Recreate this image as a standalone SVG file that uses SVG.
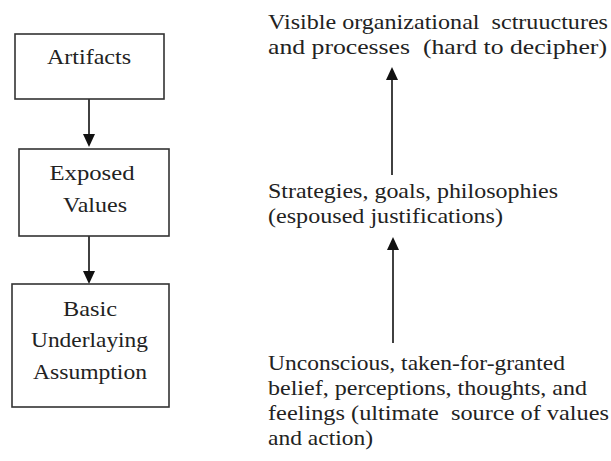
<svg xmlns="http://www.w3.org/2000/svg" width="611" height="461" viewBox="0 0 611 461">
<defs>
<style>
.box{fill:#fff;stroke:#333;stroke-width:1.6}
.t{font-size:22px;fill:#222}
.c{text-anchor:middle}
.con{stroke:#111;stroke-width:1.6;fill:none;marker-end:url(#ah)}
</style>
<marker id="ah" markerUnits="userSpaceOnUse" viewBox="0 0 13 12" refX="9" refY="6" markerWidth="13" markerHeight="12" orient="auto">
<path d="M0,0 L13,6 L0,12 z" fill="#111"/>
</marker>
</defs>
<rect width="611" height="461" fill="#fff"/>
<g id="connectors">
<line class="con" x1="89" y1="99" x2="89" y2="143"/>
<line class="con" x1="89" y1="236" x2="89" y2="280"/>
<line class="con" x1="392" y1="175" x2="392" y2="71"/>
<line class="con" x1="393" y1="343" x2="393" y2="241"/>
</g>
<g font-family="Liberation Serif, Times New Roman, serif">
<g id="artifacts">
<rect class="box" x="15" y="34" width="149" height="65"/>
<text class="t c" x="89" y="64" textLength="84" lengthAdjust="spacingAndGlyphs">Artifacts</text>
</g>
<g id="exposed-values">
<rect class="box" x="19" y="149" width="150" height="87"/>
<text class="t c" x="92" y="180" textLength="85" lengthAdjust="spacingAndGlyphs">Exposed</text>
<text class="t c" x="95" y="212" textLength="64" lengthAdjust="spacingAndGlyphs">Values</text>
</g>
<g id="basic-assumption">
<rect class="box" x="12" y="284" width="157" height="123"/>
<text class="t c" x="90" y="316" textLength="54" lengthAdjust="spacingAndGlyphs">Basic</text>
<text class="t c" x="89.5" y="347" textLength="117" lengthAdjust="spacingAndGlyphs">Underlaying</text>
<text class="t c" x="90" y="379" textLength="114" lengthAdjust="spacingAndGlyphs">Assumption</text>
</g>
<g id="visible">
<text class="t" x="268" y="29" textLength="340" lengthAdjust="spacingAndGlyphs" xml:space="preserve">Visible organizational  sctruuctures</text>
<text class="t" x="268" y="54" textLength="339" lengthAdjust="spacingAndGlyphs" xml:space="preserve">and processes  (hard to decipher)</text>
</g>
<g id="strategies">
<text class="t" x="268" y="198" textLength="290" lengthAdjust="spacingAndGlyphs">Strategies, goals, philosophies</text>
<text class="t" x="268" y="223" textLength="235" lengthAdjust="spacingAndGlyphs">(espoused justifications)</text>
</g>
<g id="unconscious">
<text class="t" x="268" y="370" textLength="297" lengthAdjust="spacingAndGlyphs">Unconscious, taken-for-granted</text>
<text class="t" x="268" y="395" textLength="319" lengthAdjust="spacingAndGlyphs">belief, perceptions, thoughts, and</text>
<text class="t" x="268" y="420" textLength="341" lengthAdjust="spacingAndGlyphs" xml:space="preserve">feelings (ultimate  source of values</text>
<text class="t" x="268" y="445" textLength="105" lengthAdjust="spacingAndGlyphs">and action)</text>
</g>
</g>
</svg>
